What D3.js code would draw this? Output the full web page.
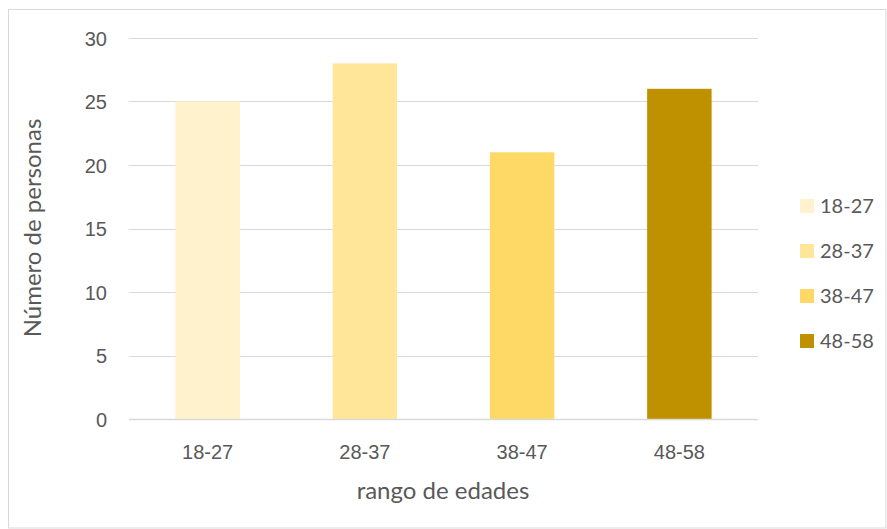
<!DOCTYPE html>
<html>
<head>
<meta charset="utf-8">
<script src="https://cdn.jsdelivr.net/npm/d3@7"></script>
<style>
  html, body { margin: 0; padding: 0; background: #fff; }
  svg { display: block; font-family: Lato, "Noto Sans", sans-serif; }
</style>
</head>
<body>
<svg id="chart" width="887" height="529"></svg>
<script>
// Age groups and number of people in each
const categories = ["18-27", "28-37", "38-47", "48-58"];
const values = [25, 28, 21, 26];
const colors = ["#FFF2CC", "#FFE699", "#FFD966", "#BF9000"];
const yTicks = [0, 5, 10, 15, 20, 25, 30];

const svg = d3.select("#chart");
const margin = { left: 129, top: 38 };
const plotRight = 758;
const plotBottom = 419;

// Outer frame
svg.append("rect")
  .attr("x", 8.5).attr("y", 9.5)
  .attr("width", 887 - 8.5 - 1).attr("height", 529 - 9.5 - 1)
  .attr("fill", "#fff").attr("stroke", "#d9d9d9").attr("stroke-width", 1);

const x = d3.scaleBand().domain(categories).range([margin.left, plotRight]).paddingInner(0.59).paddingOuter(0.295);
const y = d3.scaleLinear().domain([0, 30]).range([plotBottom, margin.top]);

// Gridlines
svg.append("g").selectAll("line").data(yTicks.filter(d => d > 0)).join("line")
  .attr("x1", margin.left).attr("x2", plotRight)
  .attr("y1", d => Math.round(y(d)) + 0.5).attr("y2", d => Math.round(y(d)) + 0.5)
  .attr("stroke", "#d9d9d9").attr("stroke-width", 1);

// Bars
svg.append("g").selectAll("rect").data(values).join("rect")
  .attr("x", (d, i) => x(categories[i]))
  .attr("width", x.bandwidth())
  .attr("y", d => y(d))
  .attr("height", d => plotBottom - y(d))
  .attr("fill", (d, i) => colors[i]);

// Baseline
svg.append("line")
  .attr("x1", margin.left).attr("x2", plotRight)
  .attr("y1", plotBottom + 0.5).attr("y2", plotBottom + 0.5)
  .attr("stroke", "#d9d9d9").attr("stroke-width", 1.5);

// Y axis tick labels
const yAxis = d3.axisLeft(y).tickValues(yTicks).tickSize(0).tickPadding(0);
const gy = svg.append("g").attr("transform", "translate(107,0)").call(yAxis);
gy.select(".domain").remove();
gy.selectAll("text").attr("fill", "#595959").style("font-size", "20px").attr("dy", "0.35em");

// X axis tick labels
const xAxis = d3.axisBottom(x).tickSize(0).tickPadding(0);
const gx = svg.append("g").attr("transform", `translate(0,${plotBottom})`).call(xAxis);
gx.select(".domain").remove();
gx.selectAll("text").attr("fill", "#595959").style("font-size", "20px").attr("dy", "0.35em").attr("y", 33);

// Axis titles
svg.append("text")
  .attr("transform", "translate(41,228) rotate(-90)")
  .attr("text-anchor", "middle")
  .attr("fill", "#595959").style("font-size", "24px")
  .text("Número de personas");

svg.append("text")
  .attr("x", 443).attr("y", 499)
  .attr("text-anchor", "middle")
  .attr("fill", "#595959").style("font-size", "24px")
  .text("rango de edades");

// Legend
const legend = svg.append("g").selectAll("g").data(categories).join("g")
  .attr("transform", (d, i) => `translate(800,${206 + i * 45})`);
legend.append("rect").attr("x", 0).attr("y", -7).attr("width", 14).attr("height", 14)
  .attr("fill", (d, i) => colors[i]);
legend.append("text").attr("x", 20).attr("y", 0).attr("dy", "0.35em")
  .attr("fill", "#595959").style("font-size", "20px")
  .text(d => d);
</script>
</body>
</html>
